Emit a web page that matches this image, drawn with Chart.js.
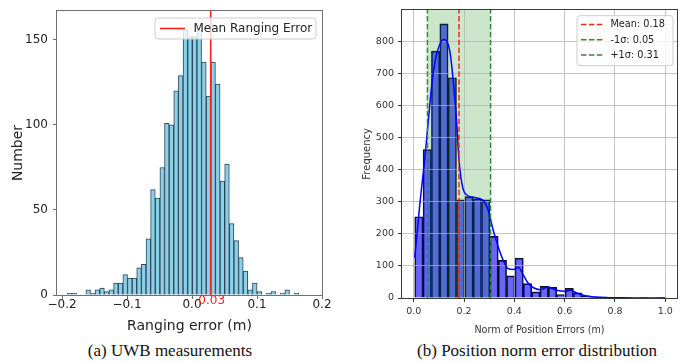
<!DOCTYPE html>
<html>
<head>
<meta charset="utf-8">
<script src="https://cdn.jsdelivr.net/npm/chart.js@4.4.1/dist/chart.umd.min.js"></script>
<style>
  body { margin: 0; background: #fff; }
  #page { position: relative; width: 686px; height: 363px; overflow: hidden; background: #fff; }
  canvas { position: absolute; top: 0; }
  #chartA { left: 0; }
  #chartB { left: 340px; }
  .cap { position: absolute; top: 341px; font-family: "Liberation Serif", serif; font-size: 17px; line-height: 20px; color: #111; white-space: nowrap; transform: translateX(-50%); }
</style>
</head>
<body>
<div id="page">
  <canvas id="chartA" width="340" height="340"></canvas>
  <canvas id="chartB" width="346" height="340"></canvas>
  <div class="cap" style="left:170px">(a) UWB measurements</div>
  <div class="cap" style="left:537px">(b) Position norm error distribution</div>
</div>
<script>
// (a) UWB ranging error histogram
const uwbBinStart = -0.1918
const uwbBinWidth = 0.00712
const uwbCounts = [1, 1, 0, 0, 3, 1, 3, 4, 2, 3,
    7, 7, 12, 10, 10, 16, 18, 33, 62, 57,
    75, 101, 100, 120, 129, 156, 152, 152, 156, 137,
    117, 137, 124, 67, 77, 42, 32, 22, 14, 3,
    7, 2, 0, 1, 2, 0, 1, 3, 0, 1]
const uwbMean = 0.0288
const uwbMeanLabel = "0.03"
const uwbLegend = "Mean Ranging Error"
const uwbXTicks = [-0.2, -0.1, 0, 0.1, 0.2]
const uwbXTickLabels = ["−0.2", "−0.1", "0.0", "0.1", "0.2"]
const uwbYTicks = [0, 50, 100, 150]
const uwbXRange = [-0.2077, 0.2]
const uwbYMax = 167

// (b) position norm error histogram + kde
const posBinStart = 0.004
const posBinWidth = 0.0332
const posCounts = [253, 462, 769, 854, 686, 306, 316, 309, 306, 192,
    117, 69, 124, 45, 19, 36, 33, 11, 30, 16,
    7, 4, 3, 2, 1, 1, 0, 1, 0, 1]
const kdeX = [0.004, 0.015, 0.024, 0.035, 0.045, 0.06, 0.077, 0.097, 0.121, 0.143,
    0.157, 0.170, 0.180, 0.192, 0.205, 0.236, 0.276, 0.296, 0.316, 0.336,
    0.356, 0.376, 0.396, 0.416, 0.436, 0.456, 0.476, 0.502, 0.535, 0.568,
    0.602, 0.622, 0.648, 0.688, 0.741, 0.8, 0.9, 1.0]
const kdeY = [126, 215, 290, 370, 440, 570, 698, 776, 805, 771,
    677, 555, 430, 355, 325, 314, 304, 273, 211, 159,
    117, 91, 89, 96, 71, 45, 32, 26, 34, 24,
    21, 24, 16, 6, 2, 1, 0, 0]
const posMean = 0.18
const posSigmaLow = 0.0545
const posSigmaHigh = 0.3055
const posLegend = ["Mean: 0.18", "-1σ: 0.05", "+1σ: 0.31"]
const posLegendColors = ["#e8291c", "#2e8b2e", "#2e8b2e"]
const posXTicks = [0, 0.2, 0.4, 0.6, 0.8, 1.0]
const posXTickLabels = ["0.0", "0.2", "0.4", "0.6", "0.8", "1.0"]
const posYTicks = [0, 100, 200, 300, 400, 500, 600, 700, 800]
const posXRange = [-0.0466, 1.0466]
const posYMax = 898

Chart.defaults.font.family = "'DejaVu Sans', sans-serif"
Chart.defaults.color = "#222"
Chart.defaults.animation = false

const fixTicks = list => s => { s.ticks = list.map(v => ({ value: v })) }

function legendBox(ctx, x, y, w, h) {
    ctx.beginPath()
    ctx.roundRect(x, y, w, h, 3)
    ctx.fillStyle = "rgba(255,255,255,0.8)"
    ctx.fill()
    ctx.strokeStyle = "#cccccc"
    ctx.lineWidth = 1
    ctx.stroke()
}

function frame(ctx, a, color) {
    ctx.strokeStyle = color
    ctx.lineWidth = 1
    ctx.strokeRect(Math.round(a.left) - 0.5, Math.round(a.top) - 0.5,
        Math.round(a.right - a.left) + 1, Math.round(a.bottom - a.top) + 1)
}

// ---------- chart (a)
const uwbCenters = uwbCounts.map((c, i) => uwbBinStart + uwbBinWidth * (i + 0.5))

const uwbExtras = {
    id: "uwbExtras",
    afterDraw(chart) {
        const { ctx, chartArea: a, scales: { x } } = chart
        ctx.save()
        frame(ctx, a, "#707070")
        // red value under the axis
        ctx.fillStyle = "#ff2020"
        ctx.font = "12px 'DejaVu Sans'"
        ctx.textAlign = "center"
        ctx.textBaseline = "middle"
        ctx.fillText(uwbMeanLabel, x.getPixelForValue(uwbMean) + 1, 301)
        // legend
        const bx = a.right - 167, by = a.top + 7
        legendBox(ctx, bx, by, 161, 21)
        ctx.strokeStyle = "#ff2020"
        ctx.lineWidth = 1.6
        ctx.beginPath()
        ctx.moveTo(bx + 5, by + 10.5)
        ctx.lineTo(bx + 30, by + 10.5)
        ctx.stroke()
        ctx.fillStyle = "#222"
        ctx.textAlign = "left"
        ctx.fillText(uwbLegend, bx + 38.5, by + 11)
        ctx.restore()
    }
}

new Chart(document.getElementById("chartA"), {
    type: "bar",
    data: {
        datasets: [
            {
                type: "line",
                data: [{ x: uwbMean, y: 0 }, { x: uwbMean, y: uwbYMax }],
                borderColor: "#ff2020",
                borderWidth: 1.6,
                pointRadius: 0,
                order: 0
            },
            {
                type: "bar",
                data: uwbCenters.map((x, i) => ({ x, y: uwbCounts[i] })),
                backgroundColor: "#8ccfea",
                borderColor: "#2c4652",
                borderWidth: 1,
                barPercentage: 1,
                categoryPercentage: 1,
                order: 1
            }
        ]
    },
    options: {
        responsive: false,
        devicePixelRatio: 1,
        layout: { padding: { top: 7, right: 18, left: 0, bottom: 0 } },
        plugins: { legend: { display: false }, tooltip: { enabled: false } },
        scales: {
            x: {
                type: "linear",
                offset: false,
                min: uwbXRange[0],
                max: uwbXRange[1],
                afterBuildTicks: fixTicks(uwbXTicks),
                afterFit: s => { s.height = 45 },
                grid: { offset: false, drawOnChartArea: false, tickLength: 4, color: "#707070" },
                border: { display: false },
                ticks: { padding: 0, maxRotation: 0, font: { size: 12, lineHeight: 1 }, color: "#222",
                    callback: (v, i) => uwbXTickLabels[i] },
                title: { display: true, text: "Ranging error (m)", font: { size: 14 }, color: "#222",
                    padding: { top: 0, bottom: 5 } }
            },
            y: {
                min: 0,
                max: uwbYMax,
                afterBuildTicks: fixTicks(uwbYTicks),
                afterFit: s => { s.width = 57 },
                grid: { drawOnChartArea: false, tickLength: 4, color: "#707070" },
                border: { display: false },
                ticks: { padding: 5, font: { size: 12, lineHeight: 1 }, color: "#222", callback: v => String(v) },
                title: { display: true, text: "Number", font: { size: 14 }, color: "#222",
                    padding: { top: 10, bottom: 0 } }
            }
        }
    },
    plugins: [uwbExtras]
})

// ---------- chart (b)
const posCenters = posCounts.map((c, i) => posBinStart + posBinWidth * (i + 0.5))

const posExtras = {
    id: "posExtras",
    // sigma band and grid sit on top of the bars, under the lines
    afterDatasetDraw(chart, args) {
        if (args.index !== 0) return
        const { ctx, chartArea: a, scales: { x, y } } = chart
        ctx.save()
        const x0 = x.getPixelForValue(posSigmaLow)
        const x1 = x.getPixelForValue(posSigmaHigh)
        ctx.fillStyle = "rgba(0,128,0,0.2)"
        ctx.fillRect(x0, a.top, x1 - x0, a.bottom - a.top)
        ctx.strokeStyle = "rgba(176,176,176,0.75)"
        ctx.lineWidth = 1
        ctx.beginPath()
        x.ticks.forEach(t => {
            const px = Math.round(x.getPixelForValue(t.value) - 0.5) + 0.5
            ctx.moveTo(px, a.top)
            ctx.lineTo(px, a.bottom)
        })
        y.ticks.forEach(t => {
            const py = Math.round(y.getPixelForValue(t.value) - 0.5) + 0.5
            ctx.moveTo(a.left, py)
            ctx.lineTo(a.right, py)
        })
        ctx.stroke()
        ctx.restore()
    },
    afterDraw(chart) {
        const { ctx, chartArea: a } = chart
        ctx.save()
        frame(ctx, a, "#3a3a3a")
        const bx = a.right - 100, by = a.top + 6
        legendBox(ctx, bx, by, 96, 50)
        ctx.font = "9.7px 'DejaVu Sans'"
        ctx.textBaseline = "middle"
        ctx.textAlign = "left"
        posLegend.forEach((txt, i) => {
            const ry = by + 8.7 + i * 15.3
            ctx.strokeStyle = posLegendColors[i]
            ctx.lineWidth = 1.5
            ctx.setLineDash([5.5, 2.4])
            ctx.beginPath()
            ctx.moveTo(bx + 4, ry)
            ctx.lineTo(bx + 27, ry)
            ctx.stroke()
            ctx.setLineDash([])
            ctx.fillStyle = "#222"
            ctx.fillText(txt, bx + 33.5, ry + 0.5)
        })
        ctx.restore()
    }
}

const vline = (xv, color, order) => ({
    type: "line",
    data: [{ x: xv, y: 0 }, { x: xv, y: posYMax }],
    borderColor: color,
    borderWidth: 1.5,
    borderDash: [5.5, 2.4],
    pointRadius: 0,
    order
})

new Chart(document.getElementById("chartB"), {
    type: "bar",
    data: {
        datasets: [
            {
                type: "bar",
                data: posCenters.map((x, i) => ({ x, y: posCounts[i] })),
                backgroundColor: "rgba(0,0,255,0.6)",
                borderColor: "#111",
                borderWidth: 1,
                barPercentage: 1,
                categoryPercentage: 1,
                order: 5
            },
            {
                type: "line",
                data: kdeX.map((x, i) => ({ x, y: kdeY[i] })),
                borderColor: "#0000ff",
                borderWidth: 1.5,
                pointRadius: 0,
                cubicInterpolationMode: "monotone",
                order: 4
            },
            vline(posMean, "#e8291c", 3),
            vline(posSigmaLow, "#2e8b2e", 2),
            vline(posSigmaHigh, "#2e8b2e", 1)
        ]
    },
    options: {
        responsive: false,
        devicePixelRatio: 1,
        layout: { padding: { top: 9, right: 9, left: 0, bottom: 0 } },
        plugins: { legend: { display: false }, tooltip: { enabled: false } },
        scales: {
            x: {
                type: "linear",
                offset: false,
                min: posXRange[0],
                max: posXRange[1],
                afterBuildTicks: fixTicks(posXTicks),
                afterFit: s => { s.height = 42 },
                grid: { offset: false, drawOnChartArea: false, tickLength: 4, color: "#3a3a3a" },
                border: { display: false },
                ticks: { padding: 4, maxRotation: 0, font: { size: 9.5 }, color: "#333",
                    callback: (v, i) => posXTickLabels[i] },
                title: { display: true, text: "Norm of Position Errors (m)", font: { size: 9.6 }, color: "#333",
                    padding: { top: 0, bottom: 4 } }
            },
            y: {
                min: 0,
                max: posYMax,
                afterBuildTicks: fixTicks(posYTicks),
                afterFit: s => { s.width = 62 },
                grid: { drawOnChartArea: false, tickLength: 4, color: "#3a3a3a" },
                border: { display: false },
                ticks: { padding: 4, font: { size: 9.5 }, color: "#333", callback: v => String(v) },
                title: { display: true, text: "Frequency", font: { size: 10 }, color: "#333",
                    padding: { top: 21, bottom: 0 } }
            }
        }
    },
    plugins: [posExtras]
})
</script>
</body>
</html>
